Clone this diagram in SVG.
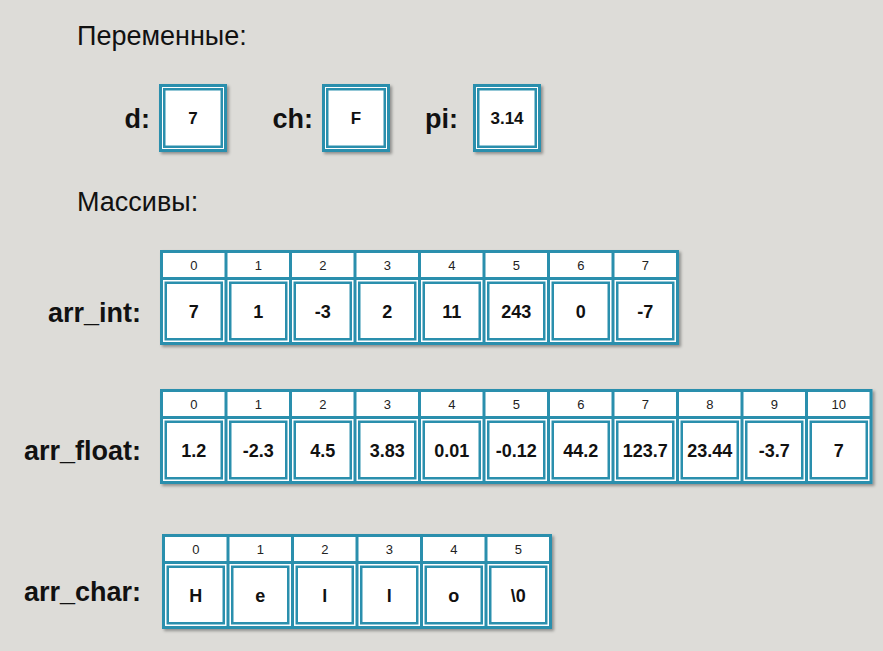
<svg xmlns="http://www.w3.org/2000/svg" xmlns:xlink="http://www.w3.org/1999/xlink" width="883" height="651" viewBox="0 0 883 651">
<style>
.title{font-family:"Liberation Sans",Arial,sans-serif;font-size:27px;fill:#111}
.lbl{font-family:"Liberation Sans",Arial,sans-serif;font-size:27px;font-weight:bold;fill:#111;text-anchor:end}
.val{font-family:"Liberation Sans",Arial,sans-serif;font-size:18px;font-weight:bold;fill:#111;text-anchor:middle}
.vv{font-family:"Liberation Sans",Arial,sans-serif;font-size:17px;font-weight:bold;fill:#111;text-anchor:middle}
.idx{font-family:"Liberation Sans",Arial,sans-serif;font-size:13px;fill:#222;text-anchor:middle}
.teal{fill:#2a8fad}
.outer{fill:#fff;stroke:#2a8fad;stroke-width:3}
.inner{fill:none;stroke:#2a8fad;stroke-width:2.5}
</style>
<defs>
<filter id="sh" x="-5%" y="-5%" width="115%" height="120%">
<feDropShadow dx="2" dy="2" stdDeviation="1.5" flood-color="#000" flood-opacity="0.35"/>
</filter>
<g id="cell">
<rect x="3" y="3" width="61.5" height="24" fill="#fff"/>
<rect x="3" y="30" width="61.5" height="62" fill="#fff"/>
<rect x="5.75" y="32.75" width="56" height="56.5" class="inner"/>
</g>
<g id="box">
<rect x="1.5" y="1.5" width="65" height="65" class="outer"/>
<rect x="5.25" y="5.25" width="57.5" height="57.5" class="inner"/>
</g>
</defs>
<rect width="883" height="651" fill="#dddcd8"/>
<text class="title" x="77" y="45">Переменные:</text>
<text class="title" x="77" y="211">Массивы:</text>

<g id="var_d">
<text class="lbl" x="150" y="128">d:</text>
<use href="#box" x="159" y="84" filter="url(#sh)"/>
<text class="vv" x="193" y="124">7</text>
</g>
<g id="var_ch">
<text class="lbl" x="313" y="128">ch:</text>
<use href="#box" x="322" y="84" filter="url(#sh)"/>
<text class="vv" x="356" y="124">F</text>
</g>
<g id="var_pi">
<text class="lbl" x="458" y="128">pi:</text>
<use href="#box" x="473" y="84" filter="url(#sh)"/>
<text class="vv" x="507" y="124">3.14</text>
</g>

<g id="arr_int">
<text class="lbl" x="141" y="322">arr_int:</text>
<g transform="translate(160,250)">
<rect class="teal" width="519" height="95" filter="url(#sh)"/>
<use href="#cell" x="0"/><use href="#cell" x="64.5"/><use href="#cell" x="129"/><use href="#cell" x="193.5"/>
<use href="#cell" x="258"/><use href="#cell" x="322.5"/><use href="#cell" x="387"/><use href="#cell" x="451.5"/>
<text class="idx" x="33.75" y="20">0</text><text class="idx" x="98.25" y="20">1</text><text class="idx" x="162.75" y="20">2</text><text class="idx" x="227.25" y="20">3</text>
<text class="idx" x="291.75" y="20">4</text><text class="idx" x="356.25" y="20">5</text><text class="idx" x="420.75" y="20">6</text><text class="idx" x="485.25" y="20">7</text>
<text class="val" x="33.75" y="67.5">7</text><text class="val" x="98.25" y="67.5">1</text><text class="val" x="162.75" y="67.5">-3</text><text class="val" x="227.25" y="67.5">2</text>
<text class="val" x="291.75" y="67.5">11</text><text class="val" x="356.25" y="67.5">243</text><text class="val" x="420.75" y="67.5">0</text><text class="val" x="485.25" y="67.5">-7</text>
</g>
</g>

<g id="arr_float">
<text class="lbl" x="141" y="460">arr_float:</text>
<g transform="translate(160,389)">
<rect class="teal" width="712.5" height="95" filter="url(#sh)"/>
<use href="#cell" x="0"/><use href="#cell" x="64.5"/><use href="#cell" x="129"/><use href="#cell" x="193.5"/>
<use href="#cell" x="258"/><use href="#cell" x="322.5"/><use href="#cell" x="387"/><use href="#cell" x="451.5"/>
<use href="#cell" x="516"/><use href="#cell" x="580.5"/><use href="#cell" x="645"/>
<text class="idx" x="33.75" y="20">0</text><text class="idx" x="98.25" y="20">1</text><text class="idx" x="162.75" y="20">2</text><text class="idx" x="227.25" y="20">3</text>
<text class="idx" x="291.75" y="20">4</text><text class="idx" x="356.25" y="20">5</text><text class="idx" x="420.75" y="20">6</text><text class="idx" x="485.25" y="20">7</text>
<text class="idx" x="549.75" y="20">8</text><text class="idx" x="614.25" y="20">9</text><text class="idx" x="678.75" y="20">10</text>
<text class="val" x="33.75" y="67.5">1.2</text><text class="val" x="98.25" y="67.5">-2.3</text><text class="val" x="162.75" y="67.5">4.5</text><text class="val" x="227.25" y="67.5">3.83</text>
<text class="val" x="291.75" y="67.5">0.01</text><text class="val" x="356.25" y="67.5">-0.12</text><text class="val" x="420.75" y="67.5">44.2</text><text class="val" x="485.25" y="67.5">123.7</text>
<text class="val" x="549.75" y="67.5">23.44</text><text class="val" x="614.25" y="67.5">-3.7</text><text class="val" x="678.75" y="67.5">7</text>
</g>
</g>

<g id="arr_char">
<text class="lbl" x="141" y="601">arr_char:</text>
<g transform="translate(162,534)">
<rect class="teal" width="390" height="95" filter="url(#sh)"/>
<use href="#cell" x="0"/><use href="#cell" x="64.5"/><use href="#cell" x="129"/><use href="#cell" x="193.5"/>
<use href="#cell" x="258"/><use href="#cell" x="322.5"/>
<text class="idx" x="33.75" y="20">0</text><text class="idx" x="98.25" y="20">1</text><text class="idx" x="162.75" y="20">2</text><text class="idx" x="227.25" y="20">3</text>
<text class="idx" x="291.75" y="20">4</text><text class="idx" x="356.25" y="20">5</text>
<text class="val" x="33.75" y="67.5">H</text><text class="val" x="98.25" y="67.5">e</text><text class="val" x="162.75" y="67.5">l</text><text class="val" x="227.25" y="67.5">l</text>
<text class="val" x="291.75" y="67.5">o</text><text class="val" x="356.25" y="67.5">\0</text>
</g>
</g>
</svg>
